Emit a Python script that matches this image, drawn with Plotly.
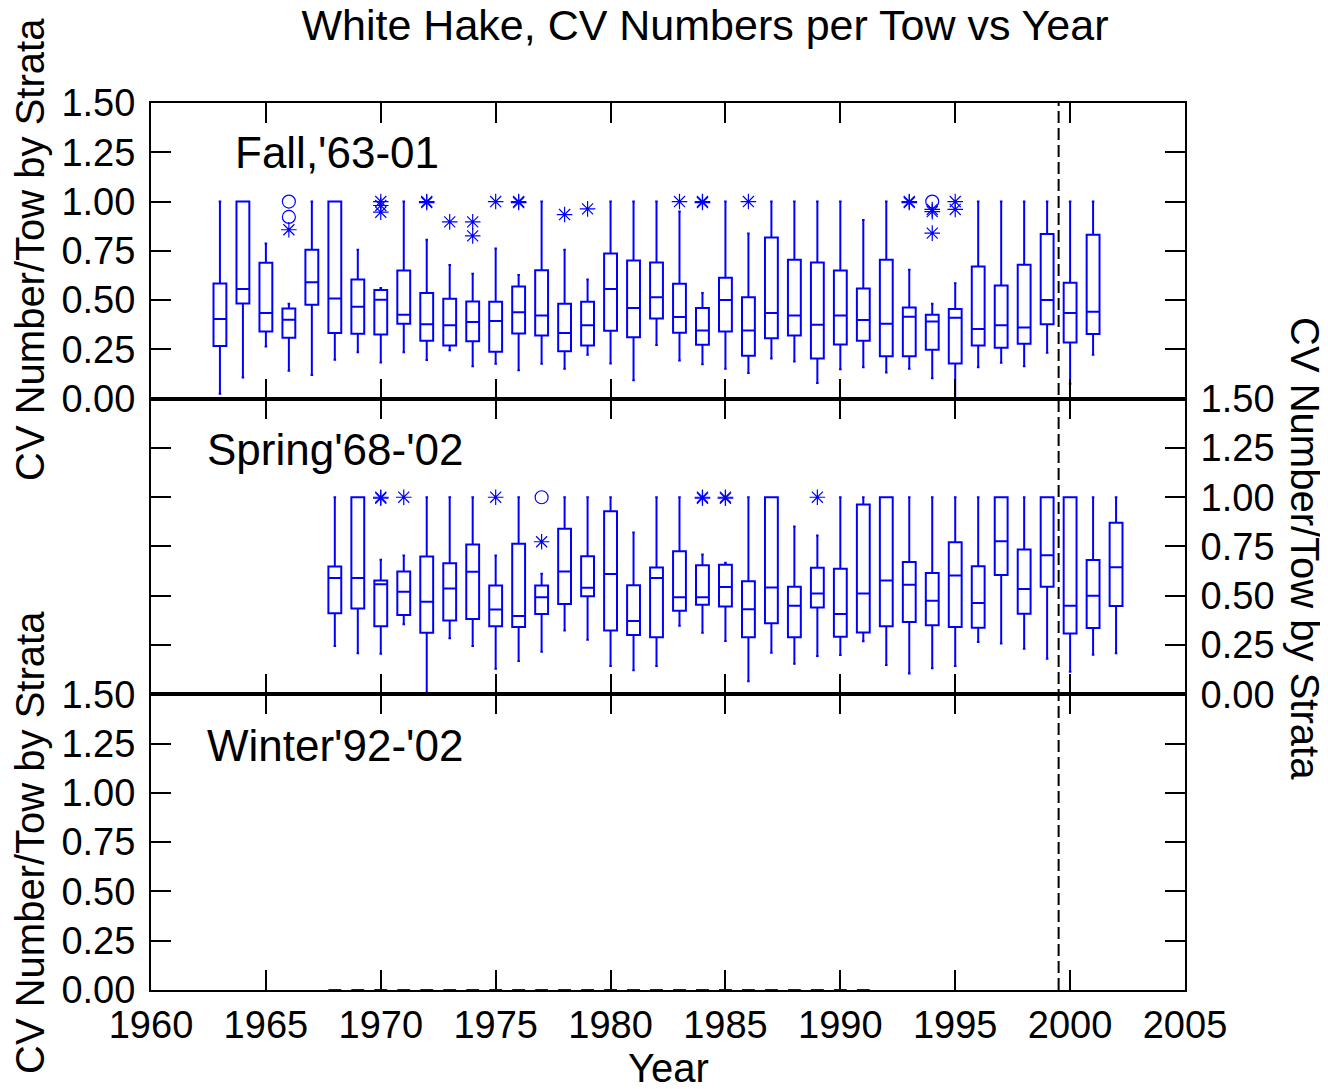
import plotly.graph_objects as go

# ---------------- data ----------------
fall_years = list(range(1963, 2002))
fall_hi = [1.0, 1.0, 0.787, 0.481, 1.0, 1.0, 0.755, 0.561, 1.0, 0.806, 0.678, 0.634, 0.762, 0.628, 1.0, 0.755, 0.605,
           1.0, 1.0, 1.0, 0.949, 0.536, 1.0, 0.838, 1.0, 1.0, 1.0, 1.0, 0.906, 1.0, 0.654, 0.481, 0.586, 1.0, 1.0,
           1.0, 1.0, 1.0, 1.0]
fall_q3 = [0.584, 1.0, 0.689, 0.458, 0.755, 1.0, 0.605, 0.551, 0.650, 0.536, 0.507, 0.493, 0.492, 0.569, 0.652, 0.481,
           0.492, 0.737, 0.701, 0.691, 0.583, 0.460, 0.613, 0.515, 0.818, 0.705, 0.691, 0.650, 0.559, 0.705, 0.463,
           0.426, 0.455, 0.671, 0.574, 0.679, 0.836, 0.588, 0.831]
fall_med = [0.404, 0.556, 0.434, 0.400, 0.591, 0.508, 0.466, 0.502, 0.426, 0.378, 0.373, 0.389, 0.394, 0.439, 0.422,
            0.333, 0.372, 0.556, 0.460, 0.514, 0.414, 0.346, 0.500, 0.346, 0.434, 0.422, 0.375, 0.422, 0.399, 0.380,
            0.416, 0.392, 0.411, 0.353, 0.372, 0.361, 0.500, 0.434, 0.441]
fall_q1 = [0.267, 0.483, 0.341, 0.309, 0.476, 0.333, 0.329, 0.326, 0.380, 0.294, 0.270, 0.291, 0.238, 0.331, 0.321,
           0.240, 0.270, 0.345, 0.311, 0.407, 0.334, 0.274, 0.341, 0.218, 0.307, 0.321, 0.204, 0.275, 0.294, 0.215,
           0.215, 0.248, 0.179, 0.270, 0.258, 0.279, 0.378, 0.285, 0.328]
fall_lo = [0.025, 0.108, 0.265, 0.142, 0.120, 0.198, 0.235, 0.184, 0.235, 0.196, 0.245, 0.164, 0.177, 0.144, 0.177,
           0.152, 0.223, 0.179, 0.093, 0.272, 0.194, 0.174, 0.152, 0.130, 0.204, 0.189, 0.079, 0.149, 0.159, 0.133,
           0.152, 0.103, 0.0, 0.159, 0.182, 0.165, 0.233, 0.076, 0.223]
fall_ast_x = [1966, 1970, 1970, 1970, 1972, 1972, 1973, 1974, 1974, 1975, 1976, 1976, 1978, 1979, 1983, 1984, 1984,
              1986, 1993, 1993, 1994, 1994, 1994, 1995, 1995]
fall_ast_y = [0.857, 1.0, 0.98, 0.946, 1.0, 0.995, 0.897, 0.897, 0.826, 1.0, 1.0, 0.995, 0.934, 0.963, 1.0, 1.0, 0.995,
              1.0, 1.0, 0.995, 0.96, 0.949, 0.84, 1.0, 0.96]
fall_circ_x = [1966, 1966, 1994]
fall_circ_y = [1.0, 0.922, 1.0]

spring_years = list(range(1968, 2003))
spring_hi = [1.0, 1.0, 0.683, 0.704, 1.0, 1.0, 1.0, 0.704, 1.0, 0.612, 1.0, 1.0, 1.0, 0.821, 1.0, 1.0, 0.710, 0.667,
             1.0, 1.0, 0.851, 0.806, 1.0, 1.0, 1.0, 1.0, 1.0, 1.0, 1.0, 1.0, 1.0, 1.0, 1.0, 1.0, 1.0]
spring_q3 = [0.649, 1.0, 0.578, 0.623, 0.699, 0.665, 0.760, 0.552, 0.764, 0.552, 0.840, 0.701, 0.929, 0.554, 0.644,
             0.726, 0.655, 0.657, 0.574, 1.0, 0.546, 0.642, 0.637, 0.963, 1.0, 0.671, 0.615, 0.772, 0.650, 1.0,
             0.735, 1.0, 1.0, 0.681, 0.870]
spring_med = [0.590, 0.590, 0.559, 0.520, 0.470, 0.537, 0.622, 0.431, 0.397, 0.492, 0.623, 0.541, 0.610, 0.372,
              0.590, 0.493, 0.493, 0.544, 0.432, 0.542, 0.449, 0.512, 0.407, 0.512, 0.578, 0.556, 0.475, 0.603,
              0.463, 0.777, 0.534, 0.706, 0.449, 0.500, 0.645]
spring_q1 = [0.411, 0.436, 0.346, 0.402, 0.313, 0.375, 0.382, 0.346, 0.341, 0.407, 0.458, 0.497, 0.324, 0.301,
             0.289, 0.424, 0.455, 0.446, 0.289, 0.361, 0.289, 0.441, 0.292, 0.314, 0.346, 0.367, 0.351, 0.341,
             0.338, 0.605, 0.409, 0.546, 0.309, 0.336, 0.448]
spring_lo = [0.245, 0.209, 0.206, 0.356, 0.0, 0.284, 0.245, 0.130, 0.169, 0.216, 0.324, 0.277, 0.144, 0.122, 0.144,
             0.348, 0.313, 0.270, 0.066, 0.211, 0.155, 0.194, 0.199, 0.269, 0.149, 0.106, 0.132, 0.144, 0.265,
             0.258, 0.231, 0.181, 0.115, 0.201, 0.209]
spring_ast_x = [1970, 1970, 1971, 1975, 1977, 1984, 1984, 1985, 1985, 1989]
spring_ast_y = [1.0, 0.995, 1.0, 1.0, 0.774, 1.0, 0.995, 1.0, 0.995, 1.0]
spring_circ_x = [1977]
spring_circ_y = [1.0]

winter_years = list(range(1968, 1992))
winter_vals = [0.0] * len(winter_years)

y_ticks = [0.0, 0.25, 0.5, 0.75, 1.0, 1.25, 1.5]
x_ticks = list(range(1960, 2006, 5))
split_year = 1999.5

# ---------------- figure ----------------
BLUE = "#0000ff"
FONT = "Liberation Sans, Arial, sans-serif"
W, H = 1320, 1081          # page body has an 8px margin
fig = go.Figure()


def add_panel(years, lo, q1, med, q3, hi, xa, ya):
    fig.add_trace(go.Box(
        x=years, lowerfence=lo, q1=q1, median=med, q3=q3, upperfence=hi,
        xaxis=xa, yaxis=ya, width=0.56, whiskerwidth=0.2,
        line=dict(color=BLUE, width=2), fillcolor="white",
        boxpoints=False, showlegend=False, hoverinfo="skip"))


def add_points(xs, ys, symbol, xa, ya):
    fig.add_trace(go.Scatter(
        x=xs, y=ys, mode="markers", xaxis=xa, yaxis=ya, showlegend=False,
        marker=dict(symbol=symbol, size=13, color=BLUE, line=dict(color=BLUE, width=1.2))))


add_panel(fall_years, fall_lo, fall_q1, fall_med, fall_q3, fall_hi, "x", "y")
add_points(fall_ast_x, fall_ast_y, "asterisk-open", "x", "y")
add_points(fall_circ_x, fall_circ_y, "circle-open", "x", "y")

add_panel(spring_years, spring_lo, spring_q1, spring_med, spring_q3, spring_hi, "x2", "y2")
add_points(spring_ast_x, spring_ast_y, "asterisk-open", "x2", "y2")
add_points(spring_circ_x, spring_circ_y, "circle-open", "x2", "y2")

add_panel(winter_years, winter_vals, winter_vals, winter_vals, winter_vals, winter_vals, "x3", "y3")

tickfont = dict(family=FONT, size=38, color="black")
common_x = dict(range=[1960, 2005], tickvals=x_ticks, ticks="inside", ticklen=20, tickwidth=1.5,
                tickcolor="black", showline=True, linecolor="black", linewidth=2, mirror="ticks",
                showgrid=False, zeroline=False, tickfont=tickfont)
common_y = dict(range=[0, 1.5], tickvals=y_ticks, tickformat=".2f", ticks="inside", ticklen=20, tickwidth=1.5,
                tickcolor="black", showline=True, linecolor="black", linewidth=2, mirror="ticks",
                showgrid=False, zeroline=False, tickfont=tickfont, ticklabelstandoff=6)

# target plot area in page px: x 151..1185, y 103..990 ; figure origin at page (8, 8)
fig.update_layout(
    width=W, height=H,
    margin=dict(l=143, r=W - 1177, t=95, b=H - 982),
    paper_bgcolor="white", plot_bgcolor="white",
    font=dict(family=FONT, color="black"),
    xaxis=dict(common_x, anchor="y", showticklabels=False),
    xaxis2=dict(common_x, anchor="y2", matches="x", showticklabels=False),
    xaxis3=dict(common_x, anchor="y3", matches="x", showticklabels=True, layer="below traces"),
    yaxis=dict(common_y, domain=[2 / 3, 1], anchor="x", side="left"),
    yaxis2=dict(common_y, domain=[1 / 3, 2 / 3], anchor="x2", side="right"),
    yaxis3=dict(common_y, domain=[0, 1 / 3], anchor="x3", side="left"),
    title=dict(text="White Hake, CV Numbers per Tow vs Year", x=697 / W, xref="container", xanchor="center",
               y=1 - 2 / H, yref="container", yanchor="top", font=dict(family=FONT, size=43)),
)

fig.add_shape(type="line", xref="x", yref="paper", x0=split_year, x1=split_year, y0=0, y1=1,
              line=dict(color="black", width=2, dash="12px,5px"))

lab_font = dict(family=FONT, size=44, color="black")
ann_font = dict(family=FONT, size=40, color="black")
fig.add_annotation(text="Fall,'63-01", x=1963.55, y=1.247, xref="x", yref="y", xanchor="left",
                   yanchor="middle", showarrow=False, font=lab_font)
fig.add_annotation(text="Spring'68-'02", x=1962.35, y=1.242, xref="x2", yref="y2", xanchor="left",
                   yanchor="middle", showarrow=False, font=lab_font)
fig.add_annotation(text="Winter'92-'02", x=1962.35, y=1.242, xref="x3", yref="y3", xanchor="left",
                   yanchor="middle", showarrow=False, font=lab_font)

ylab = "CV Number/Tow by Strata"
fig.add_annotation(text=ylab, x=(30 - 151) / 1034, y=(990 - 250) / 887, xref="paper", yref="paper",
                   textangle=-90, xanchor="center", yanchor="middle", showarrow=False, font=ann_font)
fig.add_annotation(text=ylab, x=(30 - 151) / 1034, y=(990 - 843) / 887, xref="paper", yref="paper",
                   textangle=-90, xanchor="center", yanchor="middle", showarrow=False, font=ann_font)
fig.add_annotation(text=ylab, x=(1305 - 151) / 1034, y=(990 - 548) / 887, xref="paper", yref="paper",
                   textangle=90, xanchor="center", yanchor="middle", showarrow=False, font=ann_font)
fig.add_annotation(text="Year", x=0.5, y=(990 - 1068) / 887, xref="paper", yref="paper",
                   xanchor="center", yanchor="middle", showarrow=False, font=ann_font)

fig.write_html("out.html")
